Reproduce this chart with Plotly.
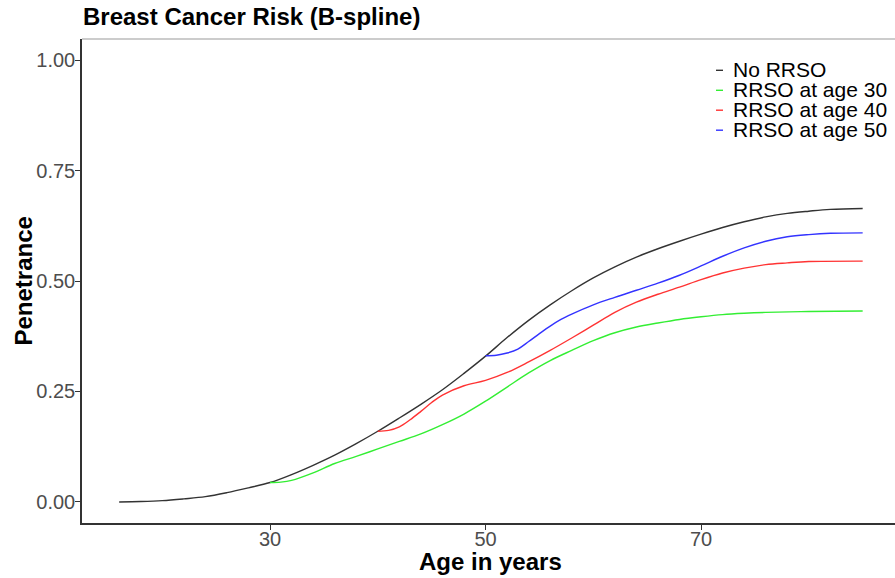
import plotly.graph_objects as go

# Penetrance curves by age (years)
ages_no = [16, 18, 20, 22, 24, 26, 28, 30, 32, 34, 36, 38, 40, 42, 44, 46, 48, 50,
           52, 54, 56, 58, 60, 62, 64, 66, 68, 70, 72, 74, 76, 78, 80, 82, 85]
pen_no = [0.000, 0.001, 0.003, 0.007, 0.012, 0.021, 0.032, 0.044, 0.062, 0.083,
          0.106, 0.132, 0.160, 0.190, 0.221, 0.254, 0.291, 0.330, 0.372, 0.411,
          0.446, 0.478, 0.507, 0.532, 0.554, 0.573, 0.590, 0.606, 0.621, 0.634,
          0.645, 0.653, 0.658, 0.662, 0.664]

ages_30 = [30, 31, 32, 34, 36, 38, 40, 42, 44, 46, 48, 50, 52, 54, 56, 58, 60, 62,
           64, 66, 68, 70, 72, 74, 76, 80, 85]
pen_30 = [0.044, 0.045, 0.049, 0.066, 0.087, 0.103, 0.120, 0.137, 0.154, 0.175,
          0.199, 0.228, 0.260, 0.292, 0.320, 0.343, 0.365, 0.383, 0.396, 0.405,
          0.413, 0.419, 0.424, 0.427, 0.429, 0.431, 0.432]

ages_40 = [40, 41, 42, 43, 44, 45, 46, 48, 50, 52, 54, 56, 58, 60, 62, 64, 66, 68,
           70, 72, 74, 76, 78, 80, 85]
pen_40 = [0.160, 0.162, 0.170, 0.186, 0.205, 0.225, 0.242, 0.263, 0.275, 0.293,
          0.317, 0.343, 0.371, 0.400, 0.429, 0.452, 0.470, 0.486, 0.503, 0.518,
          0.529, 0.537, 0.541, 0.544, 0.545]

ages_50 = [50, 51, 52, 53, 54, 55, 56, 57, 58, 60, 62, 64, 66, 68, 70, 72, 74, 76,
           78, 80, 82, 85]
pen_50 = [0.331, 0.332, 0.337, 0.346, 0.363, 0.381, 0.398, 0.413, 0.425, 0.446,
          0.463, 0.479, 0.495, 0.513, 0.534, 0.556, 0.575, 0.590, 0.600, 0.605,
          0.608, 0.609]

series_names = ["No RRSO", "RRSO at age 30", "RRSO at age 40", "RRSO at age 50"]
series_colors = ["#333333", "#33ee33", "#ff3333", "#3333ff"]
series_x = [ages_no, ages_30, ages_40, ages_50]
series_y = [pen_no, pen_30, pen_40, pen_50]

y_tick_vals = [0, 0.25, 0.5, 0.75, 1.0]
y_tick_text = ["0.00", "0.25", "0.50", "0.75", "1.00"]
x_tick_vals = [30, 50, 70]

FONT = "Liberation Sans, Arial, Helvetica, sans-serif"

W, H = 895, 578
M_L, M_R, M_T, M_B = 82, 0, 39, 55
plot_w = W - M_L - M_R
plot_h = H - M_T - M_B

fig = go.Figure()
for name, color, xs, ys in zip(series_names, series_colors, series_x, series_y):
    fig.add_trace(go.Scatter(
        x=xs, y=ys, mode="lines", name=name,
        line=dict(color=color, width=1.4, shape="spline", smoothing=1.0),
        showlegend=False,
    ))

fig.update_layout(
    width=W, height=H,
    margin=dict(l=M_L, r=M_R, t=M_T, b=M_B),
    paper_bgcolor="white", plot_bgcolor="white",
    font=dict(family=FONT, color="#000000"),
    title=dict(
        text="<b>Breast Cancer Risk (B-spline)</b>",
        font=dict(size=24, family=FONT, color="#000000"),
        x=83 / W, xanchor="left", xref="container",
        y=1 - 17 / H, yanchor="middle", yref="container",
    ),
)

fig.update_xaxes(
    range=[12.55, 88.0], automargin=False,
    tickvals=x_tick_vals, ticktext=[str(v) for v in x_tick_vals],
    ticks="outside", ticklen=5, tickwidth=1.2, tickcolor="#333333",
    ticklabelstandoff=-8,
    tickfont=dict(size=20, color="#4d4d4d", family=FONT),
    showgrid=False, zeroline=False,
    showline=True, linecolor="#333333", linewidth=1.5,
)
fig.update_yaxes(
    range=[-0.0476, 1.0476], automargin=False,
    tickvals=y_tick_vals, ticktext=y_tick_text,
    ticks="outside", ticklen=5, tickwidth=1.2, tickcolor="#333333",
    ticklabelstandoff=-4,
    tickfont=dict(size=20, color="#4d4d4d", family=FONT),
    showgrid=False, zeroline=False,
    showline=True, linecolor="#333333", linewidth=1.5,
)

# axis titles
fig.add_annotation(
    xref="paper", yref="paper", x=(490 - M_L) / plot_w, y=-(561 - (H - M_B)) / plot_h,
    text="<b>Age in years</b>", showarrow=False, xanchor="center", yanchor="middle",
    font=dict(size=24, family=FONT, color="#000000"),
)
fig.add_annotation(
    xref="paper", yref="paper", x=(22.5 - M_L) / plot_w, y=1 - (281 - M_T) / plot_h,
    text="<b>Penetrance</b>", showarrow=False, textangle=-90,
    xanchor="center", yanchor="middle",
    font=dict(size=24, family=FONT, color="#000000"),
)

# light panel border along the top
fig.add_shape(type="line", xref="paper", yref="paper", x0=0, x1=1, y0=1, y1=1,
              line=dict(color="#bbbbbb", width=1.5))

# legend keys drawn inside the panel, top right
legend_x_px = 716
legend_rows_px = [70.3, 90.3, 110.2, 130.2]
for name, color, ypx in zip(series_names, series_colors, legend_rows_px):
    yp = 1 - (ypx - M_T) / plot_h
    x0 = (legend_x_px - M_L) / plot_w
    x1 = (legend_x_px + 7 - M_L) / plot_w
    fig.add_shape(type="line", xref="paper", yref="paper", x0=x0, x1=x1, y0=yp, y1=yp,
                  line=dict(color=color, width=1.4))
    fig.add_annotation(
        xref="paper", yref="paper", x=(731 - M_L) / plot_w, y=yp + 0.5 / plot_h,
        text=name, showarrow=False, xanchor="left", yanchor="middle",
        font=dict(size=21, family=FONT, color="#000000"),
    )

fig.write_html("out.html")
